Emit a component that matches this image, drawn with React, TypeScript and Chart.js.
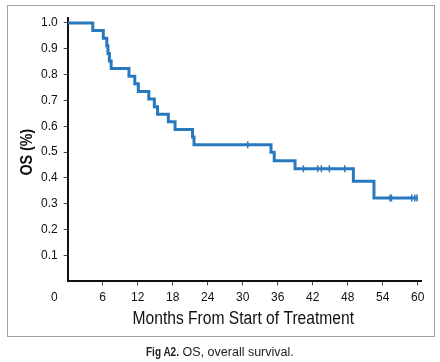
import React, { useEffect, useRef } from 'react';
import { Chart, registerables } from 'chart.js';

Chart.register(...registerables);

// Kaplan-Meier step curve: time (months) and survival after each event
const stepTimes = [0, 4.3, 6.1, 6.7, 6.9, 7.15, 7.45, 10.5, 11.5, 12.1, 13.9, 14.85, 15.4, 17.25, 18.4, 21.4, 21.65, 34.85, 35.4, 38.97, 48.97, 52.5, 59.9];
const stepSurvival = [1.0, 0.971, 0.941, 0.912, 0.882, 0.853, 0.824, 0.794, 0.765, 0.735, 0.706, 0.676, 0.647, 0.618, 0.588, 0.559, 0.529, 0.5, 0.467, 0.436, 0.387, 0.322, 0.322];

// Censored observations
const censorTimes = [30.86, 40.4, 42.86, 43.5, 44.85, 47.5, 55.25, 55.5, 58.97, 59.5, 59.9];
const censorSurvival = [0.529, 0.436, 0.436, 0.436, 0.436, 0.436, 0.322, 0.322, 0.322, 0.322, 0.322];

const xTicks = [6, 12, 18, 24, 30, 36, 42, 48, 54, 60];
const yTicks = [0.1, 0.2, 0.3, 0.4, 0.5, 0.6, 0.7, 0.8, 0.9, 1.0];
const originLabel = '0';

const xTitle = 'Months From Start of Treatment';
const yTitle = 'OS (%)';
const captionBold = 'Fig A2.';
const captionText = ' OS, overall survival.';

const LINE_COLOR = '#2878c0';
const SANS = "'Liberation Sans', Arial, sans-serif";

export default function App() {
  const canvasRef = useRef<HTMLCanvasElement | null>(null);

  useEffect(() => {
    const canvas = canvasRef.current;
    if (!canvas) return;

    const labelsPlugin = {
      id: 'extraLabels',
      afterDraw(chart: any) {
        const { ctx, chartArea } = chart;
        const yScale = chart.scales.y;
        ctx.save();
        // shared origin label
        ctx.font = `12px ${SANS}`;
        ctx.fillStyle = '#111';
        ctx.textAlign = 'right';
        ctx.textBaseline = 'middle';
        ctx.fillText(originLabel, chartArea.left - 10, chartArea.bottom + 16.5);

        // x axis title (condensed)
        ctx.save();
        ctx.translate((chartArea.left + chartArea.right) / 2 - 1.5, chartArea.bottom + 38);
        ctx.scale(0.867, 1);
        ctx.font = `18px ${SANS}`;
        ctx.textAlign = 'center';
        ctx.textBaseline = 'middle';
        ctx.fillText(xTitle, 0, 0);
        ctx.restore();

        // y axis title (condensed, bold, rotated)
        ctx.save();
        const y0 = yScale.getPixelForValue(0);
        const y1 = yScale.getPixelForValue(1);
        ctx.translate(27, (y0 + y1) / 2);
        ctx.rotate(-Math.PI / 2);
        ctx.scale(0.84, 1);
        ctx.font = `bold 17px ${SANS}`;
        ctx.textAlign = 'center';
        ctx.textBaseline = 'middle';
        ctx.fillText(yTitle, 0, 0);
        ctx.restore();

        ctx.restore();
      },
    };

    const chart = new Chart(canvas, {
      type: 'line',
      data: {
        datasets: [
          {
            type: 'line',
            data: stepTimes.map((t, i) => ({ x: t, y: stepSurvival[i] })),
            stepped: 'before',
            borderColor: LINE_COLOR,
            borderWidth: 3,
            pointRadius: 0,
            fill: false,
          } as any,
          {
            type: 'scatter',
            data: censorTimes.map((t, i) => ({ x: t, y: censorSurvival[i] })),
            pointStyle: 'line',
            rotation: 90,
            radius: 3.5,
            borderWidth: 1.5,
            borderColor: LINE_COLOR,
            backgroundColor: LINE_COLOR,
            showLine: false,
          } as any,
        ],
      },
      options: {
        animation: false,
        responsive: false,
        maintainAspectRatio: false,
        events: [],
        layout: { padding: { left: 0, top: 17.8, right: 18.2, bottom: 0 } },
        plugins: {
          legend: { display: false },
          tooltip: { enabled: false },
        },
        scales: {
          x: {
            type: 'linear',
            min: 0,
            max: 60.7,
            afterBuildTicks(scale: any) {
              scale.ticks = xTicks.map((v) => ({ value: v }));
            },
            afterFit(scale: any) {
              scale.height = 80.7;
            },
            ticks: {
              font: { size: 12, family: SANS },
              color: '#111',
              padding: 5,
              maxRotation: 0,
              autoSkip: false,
            },
            grid: {
              drawOnChartArea: false,
              drawTicks: true,
              tickLength: 4,
              color: '#444',
              lineWidth: 1,
            },
            border: { display: true, color: '#111', width: 2 },
            title: { display: false },
          },
          y: {
            type: 'linear',
            min: 0,
            max: 1.02,
            afterBuildTicks(scale: any) {
              scale.ticks = yTicks.map((v) => ({ value: v }));
            },
            afterFit(scale: any) {
              scale.width = 67.7;
            },
            ticks: {
              font: { size: 12, family: SANS },
              color: '#111',
              padding: 6,
              autoSkip: false,
              callback: (v: any) => Number(v).toFixed(1),
            },
            grid: {
              drawOnChartArea: false,
              drawTicks: true,
              tickLength: 4,
              color: '#444',
              lineWidth: 1,
            },
            border: { display: true, color: '#111', width: 2 },
            title: { display: false },
          },
        },
      } as any,
      plugins: [labelsPlugin],
    });

    return () => chart.destroy();
  }, []);

  return (
    <div style={{ position: 'absolute', left: 0, top: 0, width: 440, height: 362, background: '#fff' }}>
      <canvas ref={canvasRef} width={440} height={362} style={{ position: 'absolute', left: 0, top: 0, width: 440, height: 362 }} />
      <div
        style={{
          position: 'absolute',
          left: 7,
          top: 4.5,
          width: 428,
          height: 332,
          boxSizing: 'border-box',
          border: '1.5px solid #a0a0a0',
          pointerEvents: 'none',
        }}
      />
      <div
        style={{
          position: 'absolute',
          left: 0,
          top: 344,
          width: 440,
          textAlign: 'center',
          fontSize: '12.5px',
          lineHeight: '16px',
          color: '#222',
          fontFamily: SANS,
          whiteSpace: 'pre',
        }}
      >
        <span
          style={{
            display: 'inline-block',
            fontWeight: 'bold',
            transform: 'scaleX(0.8)',
            transformOrigin: 'left center',
            marginRight: '-8.3px',
          }}
        >
          {captionBold}
        </span>
        <span>{captionText}</span>
      </div>
    </div>
  );
}
